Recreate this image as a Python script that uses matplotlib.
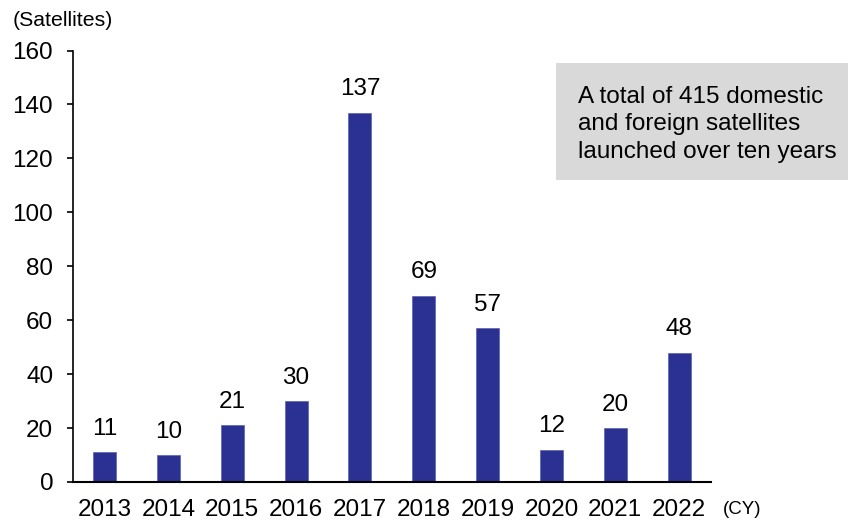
import matplotlib
matplotlib.use("Agg")
import matplotlib.pyplot as plt
from matplotlib.patches import Rectangle

years = ["2013", "2014", "2015", "2016", "2017", "2018", "2019", "2020", "2021", "2022"]
satellites = [11, 10, 21, 30, 137, 69, 57, 12, 20, 48]
yticks = [0, 20, 40, 60, 80, 100, 120, 140, 160]
note = "A total of 415 domestic\nand foreign satellites\nlaunched over ten years"

plt.rcParams['font.family'] = ['Liberation Sans', 'DejaVu Sans']

fig = plt.figure(figsize=(8.55, 5.23), dpi=100)
ax = fig.add_axes([0.085, 0.0784, 0.8316 - 0.085, 0.9034 - 0.0784])

x = list(range(len(years)))
bars = ax.bar(x, satellites, width=0.36, color="#2a3192", edgecolor="#5a61b0", linewidth=0.5)
for xi, v in zip(x, satellites):
    ax.annotate(str(v), (xi, v), xytext=(0, 9), textcoords="offset points",
                ha="center", va="bottom", fontsize=17.5, color="black")

ax.set_xlim(-0.5, 9.5)
ax.set_ylim(0, 160)
ax.set_yticks(yticks)
ax.set_xticks(x)
ax.set_xticklabels(years)
ax.tick_params(axis='y', labelsize=17.5, length=4, width=1.2, pad=10, direction='out')
ax.tick_params(axis='x', labelsize=17.5, length=0, pad=12)
for s in ["top", "right"]:
    ax.spines[s].set_visible(False)
ax.spines["left"].set_linewidth(1.2)
ax.spines["bottom"].set_linewidth(1.5)

fig.text(13 / 855, 1 - 20 / 523, "(Satellites)", fontsize=15.3, ha="left", va="center")
fig.text(723 / 855, 1 - 510 / 523, "(CY)", fontsize=13.5, ha="left", va="center")

fig.patches.append(Rectangle((0.650, 0.6558), 0.992 - 0.650, 0.880 - 0.6558,
                             transform=fig.transFigure, facecolor="#d9d9d9",
                             edgecolor="none", zorder=0))
fig.text(0.676, 0.762, note, fontsize=17.5, ha="left", va="center",
         linespacing=1.32, multialignment="left")

fig.savefig("out.png", dpi=100)
